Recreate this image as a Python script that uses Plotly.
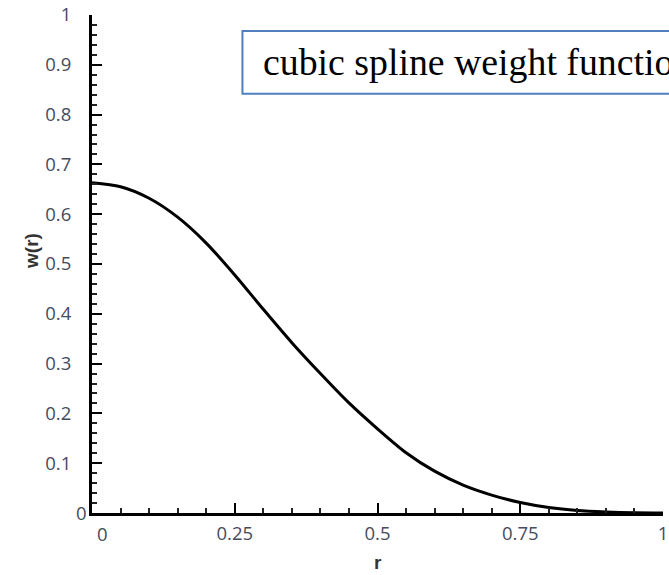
import plotly.graph_objects as go

# data
r_values = [0.00, 0.05, 0.10, 0.15, 0.20, 0.25, 0.30, 0.35, 0.40, 0.45, 0.50,
            0.55, 0.60, 0.65, 0.70, 0.75, 0.80, 0.85, 0.90, 0.95, 1.00]
w_values = [0.663, 0.655, 0.632, 0.594, 0.542, 0.478, 0.409, 0.342, 0.280, 0.221, 0.169,
            0.121, 0.084, 0.056, 0.036, 0.021, 0.011, 0.005, 0.002, 0.0004, 0.0]

x_tick_vals = [0.25, 0.5, 0.75, 1.0]
x_tick_text = ["0.25", "0.5", "0.75", "1"]
y_tick_vals = [0.1, 0.2, 0.3, 0.4, 0.5, 0.6, 0.7, 0.8, 0.9, 1.0]
y_tick_text = ["0.1", "0.2", "0.3", "0.4", "0.5", "0.6", "0.7", "0.8", "0.9", "1"]
label_text = "cubic spline weight function"

tick_font = dict(family="Open Sans", size=18.5, color="#464b5e")

fig = go.Figure()
fig.add_trace(go.Scatter(
    x=r_values, y=w_values, mode="lines",
    line=dict(color="black", width=3, shape="spline", smoothing=0.8),
    showlegend=False, hoverinfo="skip",
))

fig.update_layout(
    width=669, height=575,
    margin=dict(l=92, r=1, t=13, b=62),
    paper_bgcolor="white", plot_bgcolor="white",
    xaxis=dict(
        range=[0, 1], showgrid=False, zeroline=False,
        showline=True, linecolor="black", linewidth=3,
        tickmode="array", tickvals=x_tick_vals, ticktext=x_tick_text,
        ticks="inside", ticklen=10, tickwidth=2, tickcolor="black",
        tickfont=tick_font, ticklabelstandoff=2, ticklabeloverflow="allow",
        minor=dict(dtick=0.05, ticks="inside", ticklen=5, tickwidth=1.5, tickcolor="#222", showgrid=False),
    ),
    yaxis=dict(
        range=[0, 1], showgrid=False, zeroline=False,
        showline=True, linecolor="black", linewidth=3,
        tickmode="array", tickvals=y_tick_vals, ticktext=y_tick_text,
        ticks="inside", ticklen=10, tickwidth=2, tickcolor="black",
        tickfont=tick_font, ticklabelstandoff=14, ticklabeloverflow="allow",
        minor=dict(dtick=0.02, ticks="inside", ticklen=5, tickwidth=1.5, tickcolor="#222", showgrid=False),
    ),
)

# zero labels (offset as in the reference)
fig.add_annotation(x=0, y=0, xref="x", yref="y", text="0", showarrow=False,
                   font=tick_font, xanchor="right", yanchor="middle", xshift=-3, yshift=1)
fig.add_annotation(x=0, y=0, xref="x", yref="y", text="0", showarrow=False,
                   font=tick_font, xanchor="center", yanchor="top", xshift=10, yshift=-6)

# axis titles
fig.add_annotation(x=-0.107, y=0.526, xref="paper", yref="paper", text="<b>w(r)</b>",
                   showarrow=False, textangle=-90, font=dict(family="Liberation Sans", size=19, color="#333"),
                   xanchor="center", yanchor="middle")
fig.add_annotation(x=0.5, y=-0.1, xref="paper", yref="paper", text="<b>r</b>",
                   showarrow=False, font=dict(family="Liberation Sans", size=19, color="#333"),
                   xanchor="center", yanchor="middle")

# label box
fig.add_shape(type="rect", xref="paper", yref="paper", x0=0.2635, x1=1.2, y0=0.842, y1=0.968,
              line=dict(color="#4f7fbd", width=2), fillcolor="white")
fig.add_annotation(x=0.2955, y=0.906, xref="paper", yref="paper", text=label_text,
                   showarrow=False, font=dict(family="Liberation Serif", size=37.8, color="black"),
                   xanchor="left", yanchor="middle")

fig.write_html("out.html", config={"displayModeBar": False},
               post_script="document.body.style.margin='0';")
